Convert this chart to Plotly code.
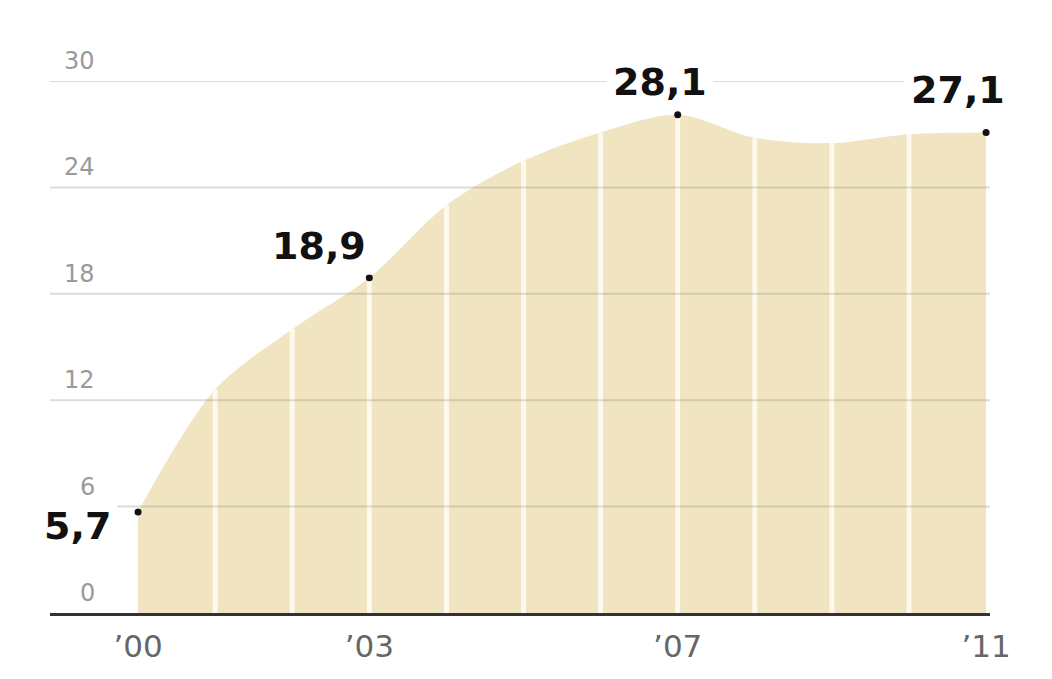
import plotly.graph_objects as go

# ---- data ----
years = [2000, 2001, 2002, 2003, 2004, 2005, 2006, 2007, 2008, 2009, 2010, 2011]
values = [5.7, 12.6, 16.0, 18.9, 23.0, 25.5, 27.1, 28.1, 26.8, 26.5, 27.0, 27.1]
labelled_years = [2000, 2003, 2007, 2011]
label_texts = ["5,7", "18,9", "28,1", "27,1"]
y_ticks = [0, 6, 12, 18, 24, 30]
x_tick_years = [2000, 2003, 2007, 2011]
x_tick_text = ["\u201900", "\u201903", "\u201907", "\u201911"]

# label offsets (pixels) : styling only
label_style = {
    "5,7": dict(xanchor="right", xshift=-20, yshift=-14),
    "18,9": dict(xanchor="right", xshift=4, yshift=32),
    "28,1": dict(xanchor="center", xshift=-18, yshift=33),
    "27,1": dict(xanchor="center", xshift=-28, yshift=42),
}

AREA = "#f0e4c1"

fig = go.Figure()

# area
fig.add_trace(go.Scatter(
    x=years, y=values, mode="lines", fill="tozeroy",
    fillcolor=AREA, line=dict(width=0, color=AREA, shape="spline", smoothing=0.9),
    hoverinfo="skip", showlegend=False,
))

# white vertical separators at inner years
vx, vy = [], []
for yr, v in zip(years[1:-1], values[1:-1]):
    vx += [yr, yr, None]
    vy += [0, v, None]
fig.add_trace(go.Scatter(
    x=vx, y=vy, mode="lines",
    line=dict(width=5, color="rgba(255,251,243,0.92)"),
    hoverinfo="skip", showlegend=False,
))

# highlighted points
lx = labelled_years
ly = [values[years.index(y)] for y in labelled_years]
fig.add_trace(go.Scatter(
    x=lx, y=ly, mode="markers",
    marker=dict(color="#111111", size=7, symbol="circle"),
    hoverinfo="skip", showlegend=False,
))

shapes = []
for t in y_ticks:
    if t == 0:
        continue
    shapes.append(dict(
        type="line", xref="paper", x0=0, x1=1, yref="y", y0=t, y1=t,
        line=dict(color="rgba(150,140,120,0.30)", width=2), layer="above",
    ))

annotations = []
for t in y_ticks:
    annotations.append(dict(
        xref="paper", x=0, yref="y", y=t, text=str(t), showarrow=False,
        xanchor="right", yanchor="middle", xshift=47, yshift=20,
        font=dict(family="DejaVu Sans", size=24, color="#9a9a9a"),
    ))
for yr, v, txt in zip(lx, ly, label_texts):
    st = label_style[txt]
    annotations.append(dict(
        xref="x", x=yr, yref="y", y=v, text=txt, showarrow=False,
        xanchor=st["xanchor"], yanchor="middle",
        xshift=st["xshift"], yshift=st["yshift"],
        font=dict(family="DejaVu Sans", size=38, color="#111111", weight=700),
        bgcolor="white", borderpad=6,
    ))

fig.update_layout(
    width=1052, height=679,
    margin=dict(l=50, r=62, t=81, b=66),
    paper_bgcolor="white", plot_bgcolor="white",
    shapes=shapes, annotations=annotations,
    xaxis=dict(
        range=[1998.858, 2011.051], showgrid=False, zeroline=False,
        showline=True, linecolor="#333333", linewidth=3,
        tickmode="array", tickvals=x_tick_years, ticktext=x_tick_text,
        ticks="", ticklabelstandoff=4,
        tickfont=dict(family="DejaVu Sans", size=31, color="#666666"),
    ),
    yaxis=dict(
        range=[0, 30], showgrid=False, zeroline=False, showticklabels=False,
        ticks="", showline=False,
    ),
)

fig.write_html("out.html")
